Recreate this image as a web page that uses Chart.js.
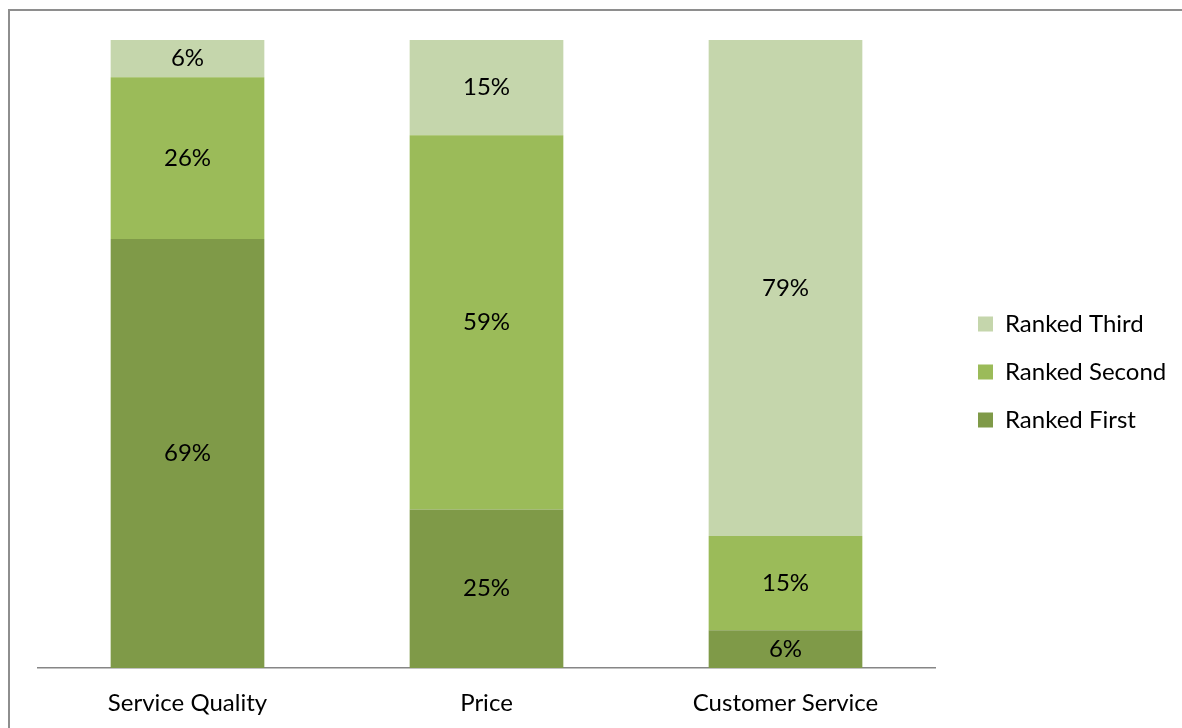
<!DOCTYPE html>
<html>
<head>
<meta charset="utf-8">
<script src="https://cdn.jsdelivr.net/npm/chart.js@4/dist/chart.umd.min.js"></script>
<style>
  html, body { margin: 0; padding: 0; background: #fff; overflow: hidden; }
  #frame { position: absolute; left: 8px; top: 9px; width: 1200px; height: 740px; border: 2px solid #8e8e8e; }
  #wrap { position: absolute; left: 0; top: 0; width: 1182px; height: 728px; }
</style>
</head>
<body>
<div id="frame"></div>
<div id="wrap"><canvas id="myChart"></canvas></div>
<script>
const categories = ["Service Quality", "Price", "Customer Service"];
const rankedFirst = [69, 25, 6];
const rankedSecond = [26, 59, 15];
const rankedThird = [6, 15, 79];

const FONT = "Lato, 'Liberation Sans', sans-serif";
const FONT_SIZE = 24;

// 100% stacked: each bar is scaled to its own total
const totals = categories.map((c, i) => rankedFirst[i] + rankedSecond[i] + rankedThird[i]);
const share = (arr) => arr.map((v, i) => (v / totals[i]) * 100);

// legend width depends on the text, measure it so the plot ends near x=936
const ctx = document.getElementById("myChart").getContext("2d");
ctx.font = FONT_SIZE + "px " + FONT;
const legendText = Math.max(...["Ranked First", "Ranked Second", "Ranked Third"].map((t) => ctx.measureText(t).width));
const legendWidth = 24 + 15 + FONT_SIZE / 2 + legendText + 9;
const rightPad = Math.max(0, 1182 - 936 - 19 - legendWidth);

// draws the value in the middle of each segment
const segmentLabels = {
  id: "segmentLabels",
  afterDatasetsDraw(chart) {
    const c = chart.ctx;
    c.save();
    c.font = FONT_SIZE + "px " + FONT;
    c.fillStyle = "#000";
    c.textAlign = "center";
    c.textBaseline = "middle";
    chart.data.datasets.forEach((ds, di) => {
      chart.getDatasetMeta(di).data.forEach((bar, i) => {
        const mid = (bar.y + bar.base) / 2;
        c.fillText(ds.raw[i] + "%", bar.x, mid);
      });
    });
    c.restore();
  },
};

// the legend is centred on 40..704 in the original, not on the full height
const legendShift = {
  id: "legendShift",
  afterLayout(chart) {
    if (chart.legend) chart.legend.bottom = 704;
  },
};

/* exported myChart */
const myChart = new Chart(ctx, {
  type: "bar",
  plugins: [segmentLabels, legendShift],
  data: {
    labels: categories,
    datasets: [
      { label: "Ranked First", raw: rankedFirst, data: share(rankedFirst), backgroundColor: "#7f9a48" },
      { label: "Ranked Second", raw: rankedSecond, data: share(rankedSecond), backgroundColor: "#9bbb59" },
      { label: "Ranked Third", raw: rankedThird, data: share(rankedThird), backgroundColor: "#c5d6ac" },
    ],
  },
  options: {
    responsive: true,
    maintainAspectRatio: false,
    animation: false,
    events: [],
    datasets: {
      bar: { barPercentage: 0.514, categoryPercentage: 1.0 },
    },
    layout: {
      padding: { left: 38, top: 40, bottom: 0, right: rightPad },
    },
    scales: {
      x: {
        stacked: true,
        grid: { display: false, drawTicks: false },
        border: { display: true, color: "#868686", width: 1.5 },
        ticks: { color: "#000", font: { family: FONT, size: FONT_SIZE }, padding: 21 },
        afterFit(scale) {
          scale.height = 60;
        },
      },
      y: {
        stacked: true,
        position: "right",
        min: 0,
        max: 100,
        grid: { display: false, drawTicks: false },
        border: { display: false },
        ticks: { display: false },
        afterFit(scale) {
          scale.width = 19;
        },
      },
    },
    plugins: {
      tooltip: { enabled: false },
      title: { display: false },
      legend: {
        position: "right",
        reverse: true,
        labels: {
          boxWidth: 15,
          boxHeight: 15,
          padding: 24,
          color: "#000",
          font: { family: FONT, size: FONT_SIZE },
        },
      },
    },
  },
});
</script>
</body>
</html>
